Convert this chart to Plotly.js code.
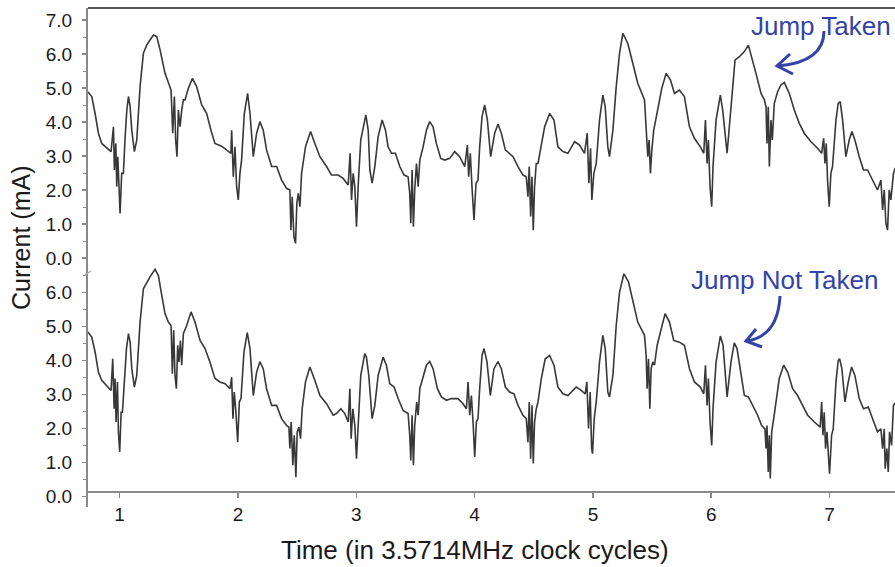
<!DOCTYPE html>
<html>
<head>
<meta charset="utf-8">
<script src="https://cdn.plot.ly/plotly-3.0.1.min.js"></script>
<style>html,body{margin:0;padding:0;background:#fff}#chart{width:895px;height:567px}</style>
</head>
<body>
<div id="chart"></div>
<script>
// Upper trace: "Jump Taken"
const xTaken = [0.731,0.765,0.793,0.821,0.849,0.892,0.928,0.948,0.956,0.968,0.976,0.985,0.996,1.004,1.018,1.032,1.047,1.061,1.075,1.089,1.103,1.125,1.145,1.173,1.201,1.229,1.257,1.286,1.314,1.342,1.384,1.412,1.435,1.449,1.463,1.474,1.485,1.497,1.511,1.525,1.539,1.553,1.581,1.615,1.651,1.694,1.736,1.772,1.806,1.862,1.905,1.941,1.947,1.961,1.975,1.989,2.003,2.017,2.031,2.054,2.082,2.102,2.130,2.158,2.186,2.214,2.242,2.285,2.327,2.369,2.411,2.439,2.448,2.459,2.473,2.487,2.498,2.510,2.524,2.538,2.571,2.614,2.650,2.693,2.749,2.791,2.847,2.889,2.932,2.948,2.960,2.974,2.988,3.002,3.016,3.038,
3.081,3.101,3.115,3.134,3.157,3.185,3.219,3.247,3.269,3.298,3.331,3.368,3.404,3.438,3.452,3.461,3.472,3.483,3.494,3.509,3.523,3.537,3.565,3.593,3.621,3.649,3.677,3.714,3.748,3.790,3.832,3.874,3.917,3.939,3.950,3.964,3.978,3.995,4.012,4.029,4.043,4.063,4.085,4.108,4.136,4.170,4.198,4.226,4.260,4.296,4.325,4.367,4.409,4.437,4.451,4.462,4.474,4.485,4.496,4.507,4.521,4.536,4.564,4.592,4.634,4.671,4.704,4.747,4.789,4.817,4.845,4.887,4.929,4.952,4.966,4.980,4.991,5.008,5.028,5.056,5.084,5.104,5.126,5.140,5.169,5.197,5.225,5.253,
5.295,5.337,5.379,5.436,5.450,5.464,5.475,5.486,5.498,5.514,5.531,5.554,5.582,5.619,5.655,5.689,5.731,5.773,5.816,5.858,5.908,5.937,5.951,5.965,5.976,5.990,6.004,6.015,6.041,6.077,6.097,6.134,6.167,6.201,6.238,6.280,6.314,6.342,6.378,6.421,6.449,6.463,6.471,6.482,6.491,6.505,6.516,6.533,6.561,6.589,6.618,6.660,6.702,6.744,6.786,6.843,6.899,6.933,6.950,6.961,6.972,6.983,6.997,7.011,7.025,7.054,7.073,7.090,7.110,7.138,7.166,7.189,7.214,7.251,7.287,7.321,7.363,7.405,7.434,7.448,7.462,7.476,7.490,7.504,7.518,7.540,7.555];
const yTaken = [4.89,4.75,4.25,3.67,3.37,3.23,3.13,3.86,2.59,3.37,2.10,2.98,1.90,1.31,2.49,2.49,3.57,4.35,4.75,4.45,3.76,3.13,3.47,5.04,6.02,6.26,6.41,6.56,6.51,6.12,5.43,5.14,4.94,3.67,4.75,3.47,2.98,4.35,3.86,4.35,4.65,4.65,4.99,5.28,5.04,4.50,4.25,3.76,3.37,3.29,3.18,3.08,3.76,2.39,3.27,2.10,1.71,2.49,2.88,4.25,4.84,4.25,2.98,3.67,4.01,3.76,3.18,2.69,2.69,2.29,2.05,2.00,0.82,1.80,0.63,0.43,1.61,1.90,1.51,2.49,3.27,3.72,3.37,2.98,2.69,2.44,2.44,2.34,2.15,3.08,1.71,2.49,2.10,0.92,2.10,3.47,
4.21,3.76,2.59,2.20,2.69,3.57,4.06,3.76,3.27,3.08,3.08,2.69,2.44,2.39,1.90,1.02,2.59,0.92,2.00,2.78,2.10,2.88,3.27,3.76,4.01,3.86,3.37,2.93,2.88,2.93,3.13,2.98,2.69,3.32,2.39,3.08,2.10,1.12,2.20,2.29,3.27,4.16,4.50,4.06,2.98,3.67,3.94,3.67,3.18,3.08,2.98,2.69,2.44,2.39,1.80,2.69,1.22,2.39,0.82,2.10,2.78,2.78,3.27,3.86,4.25,4.06,3.27,3.13,3.08,3.23,3.42,3.32,3.08,3.67,2.20,3.23,1.71,2.49,2.78,4.06,4.79,4.45,3.27,2.98,3.76,5.04,6.02,6.61,
6.31,5.73,5.14,4.65,3.76,2.98,3.47,2.49,3.18,3.76,4.06,4.45,4.99,5.43,5.24,4.84,4.94,4.75,3.86,3.52,3.27,3.08,4.06,2.78,3.47,2.10,1.51,2.69,4.06,4.79,4.35,3.08,4.35,5.82,5.92,6.07,6.26,5.92,5.43,4.84,4.65,4.45,3.37,4.45,2.69,4.06,3.47,4.55,4.89,5.09,5.16,4.84,4.35,3.96,3.67,3.42,3.23,3.08,3.52,2.78,3.37,2.29,1.51,2.49,2.69,4.06,4.55,4.60,4.06,2.98,3.47,3.72,3.47,2.98,2.59,2.59,2.29,2.00,2.29,1.41,2.00,1.02,0.82,2.00,1.71,2.49,2.65];

// Lower trace: "Jump Not Taken"
const xNotTaken = [0.731,0.765,0.793,0.821,0.849,0.892,0.928,0.942,0.954,0.962,0.970,0.982,0.990,1.001,1.013,1.024,1.041,1.058,1.075,1.089,1.103,1.125,1.145,1.173,1.201,1.229,1.257,1.300,1.328,1.356,1.384,1.412,1.435,1.446,1.457,1.468,1.480,1.491,1.502,1.514,1.525,1.539,1.567,1.604,1.637,1.680,1.722,1.764,1.806,1.848,1.891,1.933,1.947,1.958,1.969,1.981,1.998,2.012,2.026,2.051,2.079,2.102,2.130,2.158,2.186,2.214,2.242,2.285,2.327,2.369,2.411,2.431,2.439,2.450,2.464,2.476,2.490,2.501,2.515,2.529,2.543,2.571,2.608,2.650,2.693,2.749,2.805,2.833,2.870,2.903,2.932,2.946,2.957,2.971,2.988,3.002,3.016,3.038,
3.072,3.086,3.106,3.134,3.157,3.185,3.227,3.255,3.283,3.320,3.354,3.396,3.438,3.452,3.461,3.472,3.483,3.494,3.511,3.523,3.537,3.565,3.593,3.621,3.649,3.686,3.720,3.762,3.804,3.860,3.902,3.931,3.945,3.959,3.973,3.987,4.001,4.015,4.029,4.043,4.063,4.080,4.105,4.133,4.164,4.198,4.226,4.260,4.296,4.333,4.367,4.409,4.437,4.451,4.462,4.474,4.485,4.496,4.507,4.521,4.536,4.564,4.597,4.634,4.671,4.704,4.747,4.789,4.817,4.859,4.901,4.935,4.949,4.963,4.977,4.989,4.997,5.011,5.028,5.056,5.084,5.104,5.126,5.140,5.169,5.197,5.225,5.262,
5.301,5.337,5.379,5.436,5.450,5.458,5.470,5.481,5.492,5.506,5.520,5.543,5.576,5.610,5.647,5.683,5.731,5.773,5.816,5.858,5.908,5.937,5.951,5.965,5.976,5.990,6.004,6.015,6.041,6.077,6.100,6.134,6.167,6.195,6.218,6.246,6.280,6.314,6.350,6.392,6.426,6.454,6.463,6.471,6.482,6.491,6.499,6.511,6.528,6.547,6.575,6.612,6.646,6.688,6.730,6.772,6.815,6.871,6.921,6.933,6.944,6.955,6.966,6.978,6.989,7.000,7.017,7.031,7.054,7.073,7.085,7.104,7.130,7.158,7.186,7.214,7.251,7.287,7.327,7.363,7.405,7.434,7.448,7.462,7.470,7.484,7.496,7.507,7.524,7.540,7.555];
const yNotTaken = [4.84,4.69,4.25,3.66,3.42,3.25,3.12,4.05,2.58,3.47,2.19,3.37,1.90,1.31,2.48,2.48,3.37,4.35,4.79,4.54,3.76,3.22,3.56,5.13,6.11,6.31,6.46,6.68,6.50,5.92,5.38,5.13,5.03,3.61,4.89,3.56,3.17,4.45,3.96,4.59,3.86,4.79,5.03,5.43,5.13,4.59,4.35,3.95,3.47,3.37,3.32,3.17,3.51,2.29,3.07,2.58,1.60,2.78,2.88,4.25,4.82,4.35,2.97,3.66,3.96,3.76,3.17,2.68,2.68,2.29,2.09,2.04,1.41,2.19,0.92,1.80,0.57,1.90,2.04,1.70,2.58,3.37,3.81,3.42,2.97,2.73,2.39,2.44,2.58,2.44,2.19,3.17,1.70,2.58,2.09,1.11,2.19,3.56,
4.20,4.10,3.56,2.29,2.68,3.56,4.10,3.86,3.32,3.22,2.88,2.53,2.44,1.80,1.06,2.39,0.92,2.09,2.78,2.39,3.17,3.51,3.86,3.97,3.76,3.17,2.93,2.83,2.88,2.88,2.73,2.58,3.37,2.39,2.97,2.19,1.16,2.19,2.29,3.17,4.15,4.35,3.96,2.97,3.76,3.97,3.76,3.22,3.07,3.02,2.68,2.39,2.29,1.60,2.78,1.11,2.68,0.97,2.19,2.58,2.78,3.47,4.05,4.15,3.86,3.22,3.02,2.97,3.07,3.22,3.12,3.02,3.37,2.00,3.07,1.41,1.26,2.29,2.78,3.96,4.74,4.35,3.07,2.93,3.56,5.03,6.01,6.55,
6.31,5.72,5.13,4.74,4.15,3.17,4.05,2.58,3.76,3.96,3.86,4.45,4.94,5.38,5.13,4.59,4.54,4.45,3.76,3.37,3.22,3.02,3.86,2.68,3.47,2.19,1.50,2.58,3.96,4.72,4.45,2.93,3.96,4.52,4.35,3.66,2.97,2.93,2.68,2.39,2.09,1.99,1.41,2.09,0.72,1.80,0.53,1.90,2.29,2.78,3.47,3.86,3.66,3.17,2.97,2.68,2.39,2.19,2.04,2.78,1.80,2.48,1.41,1.90,1.11,0.67,1.80,1.99,3.37,4.00,4.05,3.76,2.78,3.37,3.81,3.56,2.88,2.58,2.63,2.29,1.90,1.99,1.41,1.99,0.82,1.41,0.72,1.90,1.50,2.68,2.75];

const xTickVals = [1,2,3,4,5,6,7];
const yTickValsTop = [0,1,2,3,4,5,6,7];
const yTickValsBottom = [0,1,2,3,4,5,6];

const xTitle = 'Time (in 3.5714MHz clock cycles)';
const yTitle = 'Current (mA)';
const labelTaken = 'Jump Taken';
const labelNotTaken = 'Jump Not Taken';

// geometry helpers (plot area: left 88, right 895, top 8, bottom 507)
const L = 88, R = 895, T = 8, B = 507;
const px = X => (X - L) / (R - L);
const py = Y => (B - Y) / (B - T);
const split = py(265);

const FONT = 'Liberation Sans, Arial, Helvetica, sans-serif';
const BLUE = '#3343a6';
const AXIS = '#8a8a8a';

const traces = [
  {x: xTaken, y: yTaken, type: 'scatter', mode: 'lines', xaxis: 'x', yaxis: 'y2',
   line: {color: '#383838', width: 1.6}, hoverinfo: 'skip', showlegend: false},
  {x: xNotTaken, y: yNotTaken, type: 'scatter', mode: 'lines', xaxis: 'x', yaxis: 'y',
   line: {color: '#383838', width: 1.6}, hoverinfo: 'skip', showlegend: false}
];

const yCommon = {
  showgrid: false, zeroline: false, showline: true, linecolor: AXIS, linewidth: 2,
  ticks: 'outside', ticklen: 4, tickwidth: 1.5, tickcolor: AXIS,
  tickformat: '.1f', tickfont: {family: FONT, size: 19, color: '#1a1a1a'},
  ticklabelstandoff: 6,
  minor: {dtick: 0.5, ticks: 'outside', ticklen: 3, tickcolor: AXIS, tickwidth: 1},
  anchor: 'x', fixedrange: true
};

const layout = {
  width: 895, height: 567,
  margin: {l: L, r: 895 - R, t: T, b: 567 - B, pad: 0},
  paper_bgcolor: '#ffffff', plot_bgcolor: '#ffffff',
  showlegend: false,
  xaxis: {
    range: [0.733, 7.553], tickvals: xTickVals, ticktext: xTickVals.map(String),
    showgrid: false, zeroline: false, showline: true, linecolor: AXIS, linewidth: 2,
    ticks: 'outside', ticklen: 5, tickwidth: 1.5, tickcolor: AXIS,
    tickfont: {family: FONT, size: 19, color: '#1a1a1a'},
    anchor: 'free', position: py(492), fixedrange: true
  },
  yaxis: Object.assign({}, yCommon, {domain: [0, split], range: [(496.5 - 507) / 34, (496.5 - 265) / 34], tickvals: yTickValsBottom}),
  yaxis2: Object.assign({}, yCommon, {domain: [split, 1], range: [(258 - 265) / 34, (258 - 8) / 34], tickvals: yTickValsTop}),
  shapes: [
    {type: 'line', xref: 'paper', yref: 'paper', x0: 0, x1: 1, y0: 1, y1: 1, line: {color: '#555', width: 2}},
    // axis break mark
    {type: 'line', xref: 'paper', yref: 'paper', x0: px(85), x1: px(91), y0: py(275), y1: py(271), line: {color: '#aaa', width: 1.5}},
    // Jump Taken arrow
    {type: 'path', xref: 'paper', yref: 'paper',
     path: `M ${px(824)} ${py(31)} Q ${px(824)} ${py(62)} ${px(778)} ${py(66)}`,
     line: {color: BLUE, width: 3}},
    {type: 'path', xref: 'paper', yref: 'paper',
     path: `M ${px(790)} ${py(54)} L ${px(777)} ${py(66)} L ${px(793)} ${py(74)}`,
     line: {color: BLUE, width: 3}},
    // Jump Not Taken arrow
    {type: 'path', xref: 'paper', yref: 'paper',
     path: `M ${px(780)} ${py(296)} Q ${px(778)} ${py(336)} ${px(747)} ${py(341)}`,
     line: {color: BLUE, width: 3}},
    {type: 'path', xref: 'paper', yref: 'paper',
     path: `M ${px(756)} ${py(329)} L ${px(746)} ${py(341)} L ${px(762)} ${py(347)}`,
     line: {color: BLUE, width: 3}}
  ],
  annotations: [
    {text: labelTaken, xref: 'paper', yref: 'paper', x: px(821), y: py(26), xanchor: 'center', yanchor: 'middle',
     showarrow: false, font: {family: FONT, size: 26, color: BLUE}},
    {text: labelNotTaken, xref: 'paper', yref: 'paper', x: px(784), y: py(280), xanchor: 'center', yanchor: 'middle',
     showarrow: false, font: {family: FONT, size: 26, color: BLUE}},
    {text: xTitle, xref: 'paper', yref: 'paper', x: px(475), y: py(550), xanchor: 'center', yanchor: 'middle',
     showarrow: false, font: {family: FONT, size: 26, color: '#1a1a1a'}},
    {text: yTitle, xref: 'paper', yref: 'paper', x: px(21), y: py(238), xanchor: 'center', yanchor: 'middle',
     textangle: -90, showarrow: false, font: {family: FONT, size: 25, color: '#1a1a1a'}}
  ]
};

Plotly.newPlot('chart', traces, layout, {staticPlot: true, displayModeBar: false});
</script>
</body>
</html>
